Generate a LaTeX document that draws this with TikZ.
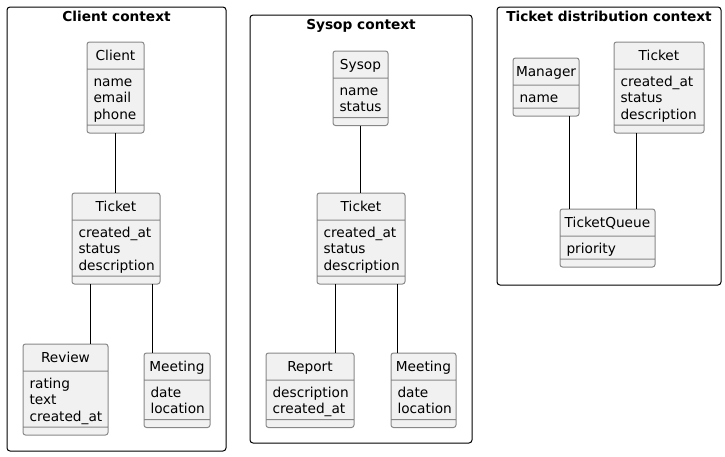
\documentclass[tikz,border=0pt]{standalone}
\usepackage{fontspec}
\setmainfont{DejaVu Sans}
\usepackage{tikz}
\usetikzlibrary{shapes.multipart}
\usepackage{xcolor}
\definecolor{umlfill}{HTML}{F1F1F1}
\definecolor{umlborder}{HTML}{888888}
\newcommand{\cname}[1]{\rule[-8pt]{0pt}{26pt}#1}
\newcommand{\cattr}[1]{{\setbox\strutbox\hbox{\vrule height 11.5pt depth 5pt width 0pt}%
  \begin{tabular}{@{\hspace{3.5pt}}l@{}}\rule{0pt}{16.5pt}#1\rule[-5.5pt]{0pt}{5.5pt}\end{tabular}}}

\begin{document}
\begin{tikzpicture}[
  x=1pt, y=-1pt,
  ctx/.style={draw,rounded corners=3pt,line width=1pt,anchor=north west,inner sep=0pt,outer sep=0pt},
  ctxtitle/.style={anchor=base,inner sep=0pt,font=\bfseries\fontsize{13.7}{16}\selectfont},
  umlclass/.style={rectangle split,rectangle split parts=3,rectangle split part align={center,left,left},
    draw=umlborder,fill=umlfill,rounded corners=2.5pt,line width=1pt,inner xsep=3pt,inner ysep=0pt,
    outer sep=0pt,anchor=north west,font=\fontsize{13.7}{16.5}\selectfont},
  link/.style={draw,line width=1pt}
]
\useasboundingbox (0,0) rectangle (725,456);

% contexts
\node[ctx,minimum width=219pt,minimum height=444pt] (clientctx) at (7,7) {};
\node[ctxtitle] (clienttitle) at ([yshift=-14pt]clientctx.north) {Client context};
\node[ctx,minimum width=222pt,minimum height=428pt] (sysopctx) at (250,15) {};
\node[ctxtitle] (sysoptitle) at ([yshift=-14pt]sysopctx.north) {Sysop context};
\node[ctx,minimum width=224pt,minimum height=278pt] (distctx) at (497,7) {};
\node[ctxtitle] (disttitle) at ([yshift=-14pt]distctx.north) {Ticket distribution context};

% client context
\node[umlclass,minimum width=57pt] (client) at (87,42) {\cname{Client}\nodepart{two}\cattr{name\\email\\phone}\nodepart{three}\rule{0pt}{7pt}};
\node[umlclass,minimum width=88pt] (tkc) at (72,193) {\cname{Ticket}\nodepart{two}\cattr{created\_at\\status\\description}\nodepart{three}\rule{0pt}{7pt}};
\node[umlclass,minimum width=85pt] (review) at (23,344) {\cname{Review}\nodepart{two}\cattr{rating\\text\\created\_at}\nodepart{three}\rule{0pt}{7pt}};
\node[umlclass,minimum width=66pt] (meetc) at (144,353) {\cname{Meeting}\nodepart{two}\cattr{date\\location}\nodepart{three}\rule{0pt}{7pt}};

% sysop context
\node[umlclass,minimum width=55pt] (sysop) at (333,51) {\cname{Sysop}\nodepart{two}\cattr{name\\status}\nodepart{three}\rule{0pt}{7pt}};
\node[umlclass,minimum width=88pt] (tks) at (317,193) {\cname{Ticket}\nodepart{two}\cattr{created\_at\\status\\description}\nodepart{three}\rule{0pt}{7pt}};
\node[umlclass,minimum width=88pt] (report) at (266,353) {\cname{Report}\nodepart{two}\cattr{description\\created\_at}\nodepart{three}\rule{0pt}{7pt}};
\node[umlclass,minimum width=65pt] (meets) at (391,353) {\cname{Meeting}\nodepart{two}\cattr{date\\location}\nodepart{three}\rule{0pt}{7pt}};

% ticket distribution context
\node[umlclass,minimum width=66pt] (manager) at (513,58) {\cname{Manager}\nodepart{two}\cattr{name}\nodepart{three}\rule{0pt}{7pt}};
\node[umlclass,minimum width=90pt] (tkd) at (614,42) {\cname{Ticket}\nodepart{two}\cattr{created\_at\\status\\description}\nodepart{three}\rule{0pt}{7pt}};
\node[umlclass,minimum width=95pt] (queue) at (560,209) {\cname{TicketQueue}\nodepart{two}\cattr{priority}\nodepart{three}\rule{0pt}{7pt}};

% links
\draw[link] (client.south) -- (client.south |- tkc.north);
\draw[link] ([xshift=18pt]tkc.south west) -- ([xshift=18pt]tkc.south west |- review.north);
\draw[link] ([xshift=-8pt]tkc.south east) -- ([xshift=-8pt]tkc.south east |- meetc.north);
\draw[link] (sysop.south) -- (sysop.south |- tks.north);
\draw[link] ([xshift=18pt]tks.south west) -- ([xshift=18pt]tks.south west |- report.north);
\draw[link] ([xshift=-8pt]tks.south east) -- ([xshift=-8pt]tks.south east |- meets.north);
\draw[link] ([xshift=-10pt]manager.south east) -- ([xshift=-10pt]manager.south east |- queue.north);
\draw[link] ([xshift=22pt]tkd.south west) -- ([xshift=22pt]tkd.south west |- queue.north);
\end{tikzpicture}
\end{document}
